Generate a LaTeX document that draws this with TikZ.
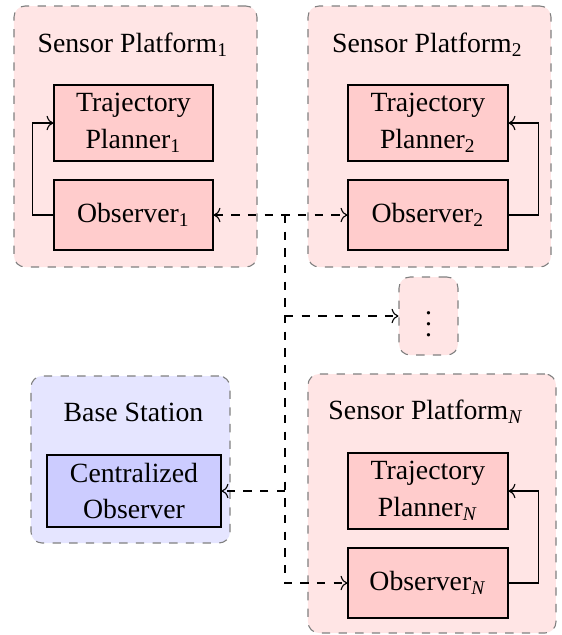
\documentclass[tikz,border=0pt]{standalone}
\usepackage{fontspec}
\setmainfont{Liberation Serif}
\usetikzlibrary{arrows.meta}
\begin{document}
\begin{tikzpicture}[x=0.36pt,y=-0.36pt,
  every node/.style={font=\fontsize{10}{13.3}\selectfont},
  group/.style={draw=gray, dashed, rounded corners=4pt, fill=red!10, inner sep=0pt},
  bgroup/.style={group, fill=blue!10},
  block/.style={draw=black, fill=red!20, align=center, inner sep=0pt},
  bblock/.style={block, fill=blue!20},
  title/.style={anchor=base, inner sep=0pt},
  link/.style={draw=black, dashed, ->},
  fb/.style={draw=black, ->}]
\useasboundingbox (0,0) rectangle (562,635);
% containers
\node[group, minimum width=243*0.36pt, minimum height=261*0.36pt] (sp1) at (135.5,136.5) {};
\node[group, minimum width=243*0.36pt, minimum height=261*0.36pt] (sp2) at (429.5,136.5) {};
\node[group, minimum width=248*0.36pt, minimum height=259*0.36pt] (spN) at (432,503.5) {};
\node[bgroup, minimum width=199*0.36pt, minimum height=167*0.36pt] (bs) at (130.5,459.5) {};
\node[group, minimum width=59*0.36pt, minimum height=78*0.36pt] (dots) at (428.5,316) {$\vdots$};
% titles
\node[title] (sp1t) at (133,52) {Sensor Platform\textsubscript{1}};
\node[title] (sp2t) at (427.5,52) {Sensor Platform\textsubscript{2}};
\node[title] (spNt) at (426,419) {Sensor Platform\textsubscript{\textit{N}}};
\node[title] (bst) at (133.5,421) {Base Station};
% blocks
\node[block, minimum width=159*0.36pt, minimum height=76*0.36pt] (tp1) at (133.5,123) {Trajectory\\Planner\textsubscript{1}};
\node[block, minimum width=159*0.36pt, minimum height=70*0.36pt] (obs1) at (133.5,215) {Observer\textsubscript{1}};
\node[block, minimum width=160*0.36pt, minimum height=76*0.36pt] (tp2) at (428,123) {Trajectory\\Planner\textsubscript{2}};
\node[block, minimum width=160*0.36pt, minimum height=70*0.36pt] (obs2) at (428,215) {Observer\textsubscript{2}};
\node[block, minimum width=160*0.36pt, minimum height=76*0.36pt] (tpN) at (428,491) {Trajectory\\Planner\textsubscript{\textit{N}}};
\node[block, minimum width=160*0.36pt, minimum height=70*0.36pt] (obsN) at (428,583) {Observer\textsubscript{\textit{N}}};
\node[bblock, minimum width=174*0.36pt, minimum height=72*0.36pt] (co) at (134,491) {Centralized\\Observer};
% feedback loops
\draw[fb] (obs1.west) -- ++(-21,0) |- (tp1.west);
\draw[fb] (obs2.east) -- ++(30,0) |- (tp2.east);
\draw[fb] (obsN.east) -- ++(30,0) |- (tpN.east);
% communication
\coordinate (j) at (285,215);
\draw[link, <->] (obs1.east) -- (obs2.west);
\draw[link] (j) |- (obsN.west);
\draw[link] (j |- dots.west) -- (dots.west);
\draw[link] (j |- co.east) -- (co.east);
\end{tikzpicture}
\end{document}
